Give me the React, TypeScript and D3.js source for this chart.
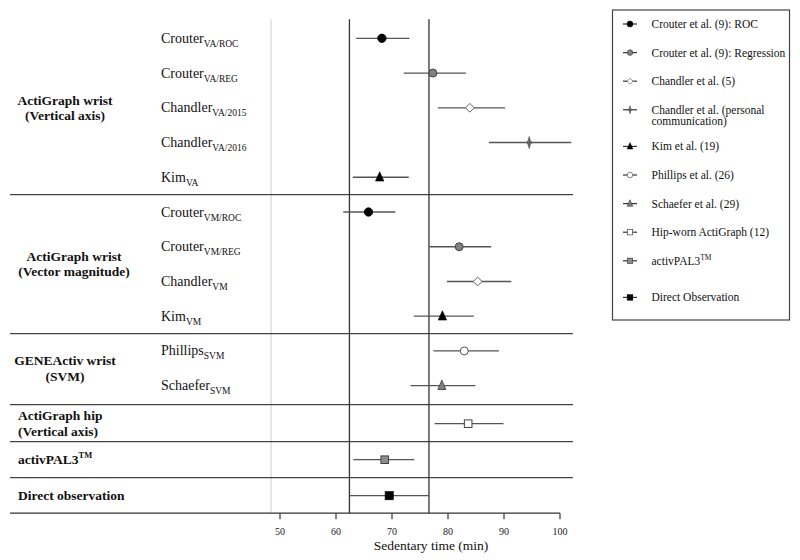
import React from "react";
import * as d3 from "d3";

// ---- data ----
const rowNames = ["Crouter", "Crouter", "Chandler", "Chandler", "Kim", "Crouter", "Crouter", "Chandler", "Kim", "Phillips", "Schaefer", "", "", ""];
const rowSubs = ["VA/ROC", "VA/REG", "VA/2015", "VA/2016", "VA", "VM/ROC", "VM/REG", "VM", "VM", "SVM", "SVM", "", "", ""];
const rowMarkers = ["roc", "reg", "chandler", "personal", "kim", "roc", "reg", "chandler", "kim", "phillips", "schaefer", "hip", "pal", "direct"];
const pointValues = [68.2, 77.3, 83.9, 94.5, 67.8, 65.8, 82.0, 85.3, 79.0, 82.9, 78.9, 83.6, 68.7, 69.5];
const lowerCI = [63.6, 72.1, 78.2, 87.3, 63.0, 61.3, 76.7, 79.8, 73.9, 77.4, 73.3, 77.6, 63.1, 62.4];
const upperCI = [73.1, 83.2, 90.2, 102.0, 73.0, 70.6, 87.7, 91.3, 84.6, 89.1, 84.9, 89.9, 74.0, 76.6];

const groupLabels = [
  ["ActiGraph wrist", "(Vertical axis)"],
  ["ActiGraph wrist", "(Vector magnitude)"],
  ["GENEActiv wrist", "(SVM)"],
  ["ActiGraph hip", "(Vertical axis)"],
  ["activPAL3"],
  ["Direct observation"],
];
const groupFirstRow = [0, 5, 9, 11, 12, 13];
const groupLastRow = [4, 8, 10, 11, 12, 13];

const legendLabels = [
  ["Crouter et al. (9): ROC"],
  ["Crouter et al. (9): Regression"],
  ["Chandler et al. (5)"],
  ["Chandler et al. (personal", "communication)"],
  ["Kim et al.  (19)"],
  ["Phillips et al. (26)"],
  ["Schaefer et al.  (29)"],
  ["Hip-worn ActiGraph (12)"],
  ["activPAL3"],
  ["Direct Observation"],
];
const legendMarkers = ["roc", "reg", "chandler", "personal", "kim", "phillips", "schaefer", "hip", "pal", "direct"];

const tickValues = [50, 60, 70, 80, 90, 100];
const referenceLines = [62.4, 76.6];
const nullLine = 48.4;
const axisTitle = "Sedentary time (min)";

const FONT = "'Liberation Serif', 'Times New Roman', serif";

function Marker({ type, x, y, s = 1 }: { type: string; x: number; y: number; s?: number }) {
  const t = `translate(${x},${y}) scale(${s})`;
  switch (type) {
    case "roc":
      return <circle transform={t} r={4.2} fill="#000" stroke="#000" strokeWidth={0.8} />;
    case "reg":
      return <circle transform={t} r={4} fill="#808080" stroke="#444" strokeWidth={1} />;
    case "chandler":
      return <path transform={t} d="M0,-4.4 L4.4,0 L0,4.4 L-4.4,0 Z" fill="#fff" stroke="#666" strokeWidth={1} />;
    case "personal":
      return <path transform={t} d="M0,-6 L1.2,-1.8 L3,0 L1.2,1.8 L0,6 L-1.2,1.8 L-3,0 L-1.2,-1.8 Z" fill="#666" stroke="#444" strokeWidth={0.6} />;
    case "kim":
      return <path transform={t} d="M0,-5.5 L4.2,3.8 L-4.2,3.8 Z" fill="#000" stroke="#000" strokeWidth={0.6} />;
    case "phillips":
      return <circle transform={t} r={4} fill="#fff" stroke="#555" strokeWidth={1} />;
    case "schaefer":
      return <path transform={t} d="M0,-5.5 L4,3.8 L-4,3.8 Z" fill="#808080" stroke="#333" strokeWidth={0.8} />;
    case "hip":
      return <rect transform={t} x={-3.8} y={-3.8} width={7.6} height={7.6} fill="#fff" stroke="#444" strokeWidth={1} />;
    case "pal":
      return <rect transform={t} x={-3.8} y={-3.8} width={7.6} height={7.6} fill="#8c8c8c" stroke="#444" strokeWidth={1} />;
    case "direct":
      return <rect transform={t} x={-4.1} y={-4.1} width={8.2} height={8.2} fill="#000" stroke="#000" strokeWidth={0.6} />;
  }
  return null;
}

export default function App() {
  const W = 800, H = 560;
  const x = d3.scaleLinear().domain([50, 100]).range([280, 560]);
  const y = d3.scaleLinear().domain([0, 10, 11, 13]).range([38.3, 385.7, 423.7, 495.7]);
  const plotLeft = 10, plotRight = 573;
  const axisY = y(13) + 17.5;
  const topY = y(0) - 19;

  const separators = groupFirstRow.slice(1).map((r) => (y(r - 1) + y(r)) / 2);

  const legendY = (i: number) => 24 + i * 28.6 + (i > 3 ? 8 : 0) + (i > 8 ? 8 : 0);

  return (
    <svg width={W} height={H} style={{ position: "absolute", left: 0, top: 0, background: "#fff" }} fontFamily={FONT}>
      <rect width={W} height={H} fill="#fff" />
      {/* null line */}
      <line x1={x(nullLine)} x2={x(nullLine)} y1={topY} y2={axisY} stroke="#cfcfcf" strokeWidth={1} />
      {/* separators */}
      {separators.map((sy, i) => (
        <line key={i} x1={plotLeft} x2={plotRight} y1={sy} y2={sy} stroke="#444" strokeWidth={1.3} />
      ))}
      {/* reference lines */}
      {referenceLines.map((v, i) => (
        <line key={i} x1={x(v)} x2={x(v)} y1={topY} y2={axisY} stroke="#333" strokeWidth={1.3} />
      ))}
      {/* axis */}
      <line x1={plotLeft} x2={x(100)} y1={axisY} y2={axisY} stroke="#333" strokeWidth={1.3} />
      {tickValues.map((t) => (
        <g key={t}>
          <line x1={x(t)} x2={x(t)} y1={axisY} y2={axisY + 6} stroke="#333" strokeWidth={1.2} />
          <text x={x(t)} y={axisY + 22} textAnchor="middle" fontSize={10} fill="#222">{t}</text>
        </g>
      ))}
      <text x={431} y={axisY + 37} textAnchor="middle" fontSize={13.5} fill="#111">{axisTitle}</text>

      {/* CI and points */}
      {pointValues.map((v, i) => (
        <g key={i}>
          <line x1={x(lowerCI[i])} x2={x(upperCI[i])} y1={y(i)} y2={y(i)} stroke="#555" strokeWidth={1.3} />
          <Marker type={rowMarkers[i]} x={x(v)} y={y(i)} />
        </g>
      ))}

      {/* row labels */}
      {rowNames.map((n, i) =>
        n ? (
          <text key={i} x={161} y={y(i) + 4.5} fontSize={14} fill="#111">
            {n}
            <tspan fontSize={9.5} dy={4}>{rowSubs[i]}</tspan>
          </text>
        ) : null
      )}

      {/* group labels */}
      {groupLabels.map((lines, g) => {
        const cy = (y(groupFirstRow[g]) + y(groupLastRow[g])) / 2;
        const centered = g < 3;
        const cx = g === 1 ? 74 : 65;
        const n = lines.length;
        return (
          <g key={g}>
            {lines.map((l, k) => (
              <text
                key={k}
                x={centered ? cx : 18}
                y={cy + (k - (n - 1) / 2) * 15.5 + 4.5}
                textAnchor={centered ? "middle" : "start"}
                fontSize={13.5}
                fontWeight="bold"
                fill="#111"
              >
                {l}
                {l === "activPAL3" ? <tspan fontSize={8.5} dy={-6}>TM</tspan> : null}
              </text>
            ))}
          </g>
        );
      })}

      {/* legend */}
      <rect x={612.5} y={10} width={177} height={310} fill="#fff" stroke="#444" strokeWidth={1.2} />
      {legendLabels.map((lines, i) => {
        const ly = legendY(i);
        return (
          <g key={i}>
            <line x1={623} x2={637} y1={ly} y2={ly} stroke="#333" strokeWidth={1.2} />
            <Marker type={legendMarkers[i]} x={630} y={ly} s={0.7} />
            {lines.map((l, k) => (
              <text key={k} x={651.5} y={ly + 4 + k * 11.5} fontSize={11.5} fill="#111">
                {l}
                {l === "activPAL3" ? <tspan fontSize={7.5} dy={-5}>TM</tspan> : null}
              </text>
            ))}
          </g>
        );
      })}
    </svg>
  );
}
